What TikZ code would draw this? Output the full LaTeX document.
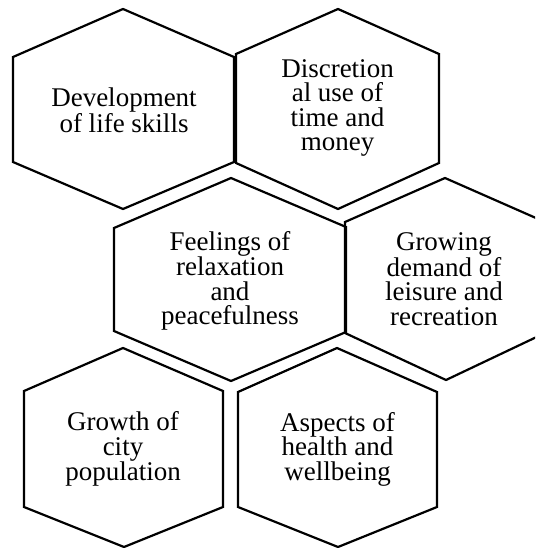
\documentclass[tikz,border=0pt]{standalone}
\usepackage{fontspec}
\setmainfont{Liberation Serif}
\begin{document}
\begin{tikzpicture}[x=1pt, y=-1pt,
  cell/.style={line width=2.2pt, line join=miter},
  lbl/.style={align=center, inner sep=0pt, font=\fontsize{27}{24.5}\selectfont}]
\useasboundingbox (0,0) rectangle (535,548);
\clip (0,0) rectangle (535,548);
% top row
\draw[cell] (123,9) -- (234,57) -- (234,162) -- (123,209) -- (13,162) -- (13,57) -- cycle;
\node[lbl] (hex1) at (124,110){Development\\of life skills};
\draw[cell] (338,9) -- (439,54) -- (439,163) -- (338,209) -- (236,163) -- (236,54) -- cycle;
\node[lbl] (hex2) at (337.5,108){Discretion\\al use of\\time and\\money};
% middle row
\draw[cell] (231,178) -- (346,227) -- (346,332) -- (231,381) -- (114,331) -- (114,228) -- cycle;
\node[lbl] (hex3) at (230,281){Feelings of\\relaxation\\and\\peacefulness};
\draw[cell] (445,178) -- (545,222) -- (545,333) -- (446,380) -- (345,333) -- (345,222) -- cycle;
\node[lbl] (hex4) at (444,279){Growing\\demand of\\leisure and\\recreation};
% bottom row
\draw[cell] (123,348) -- (223,391) -- (223,507) -- (124,547) -- (24,507) -- (24,391) -- cycle;
\node[lbl] (hex5) at (123,449){Growth of\\city\\population};
\draw[cell] (337,348) -- (437,392) -- (437,507) -- (338,547) -- (238,507) -- (238,392) -- cycle;
\node[lbl] (hex6) at (337.5,449){Aspects of\\health and\\wellbeing};
\end{tikzpicture}
\end{document}
